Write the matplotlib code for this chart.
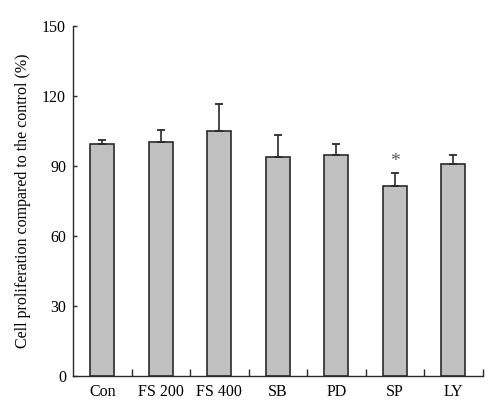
import matplotlib
matplotlib.use("Agg")
import matplotlib.pyplot as plt
import numpy as np

categories = ["Con", "FS 200", "FS 400", "SB", "PD", "SP", "LY"]
values = [99.5, 100.4, 105.1, 93.9, 94.7, 81.4, 90.9]
errors = [1.8, 4.9, 11.3, 9.4, 4.9, 5.7, 3.8]
significant = [False, False, False, False, False, True, False]
y_ticks = [0, 30, 60, 90, 120, 150]

plt.rcParams['font.family'] = ['Liberation Serif', 'DejaVu Serif']

fig = plt.figure(figsize=(5.0, 4.18), dpi=100)
ax = fig.add_axes([0.146, 0.1005, 0.819, 0.8375])

x = np.arange(len(categories))
ax.bar(x, values, width=0.41, color="#c0c0c0", edgecolor="#2a2a2a", linewidth=1.2, zorder=2)
ax.errorbar(x, values, yerr=[np.zeros(len(values)), errors], fmt='none',
            ecolor="#2a2a2a", elinewidth=1.2, capsize=3.2, capthick=1.3, zorder=3)
for xi, v, e, s in zip(x, values, errors, significant):
    if s:
        ax.text(xi, v + e + 1.0, "*", ha='center', va='bottom', fontsize=14, color="#555555")

ax.set_xlim(-0.5, len(categories) - 0.5)
ax.set_ylim(0, 150)
ax.set_yticks(y_ticks)
ax.set_xticks(x)
ax.set_xticklabels(categories)
ax.set_xticks(np.arange(len(categories)) + 0.5, minor=True)
ax.tick_params(axis='x', which='major', length=0, pad=6, labelsize=11.5)
ax.tick_params(axis='x', which='minor', direction='in', length=5, width=1.0, color="#2a2a2a")
ax.tick_params(axis='y', direction='in', length=3, width=1.0, labelsize=11.5, color="#2a2a2a", pad=5)
for side in ['top', 'right']:
    ax.spines[side].set_visible(False)
for side in ['left', 'bottom']:
    ax.spines[side].set_linewidth(1.0)
    ax.spines[side].set_color("#2a2a2a")
ax.set_ylabel("Cell proliferation compared to the control (%)", fontsize=11.5, labelpad=8)

fig.savefig("out.png", dpi=100)
